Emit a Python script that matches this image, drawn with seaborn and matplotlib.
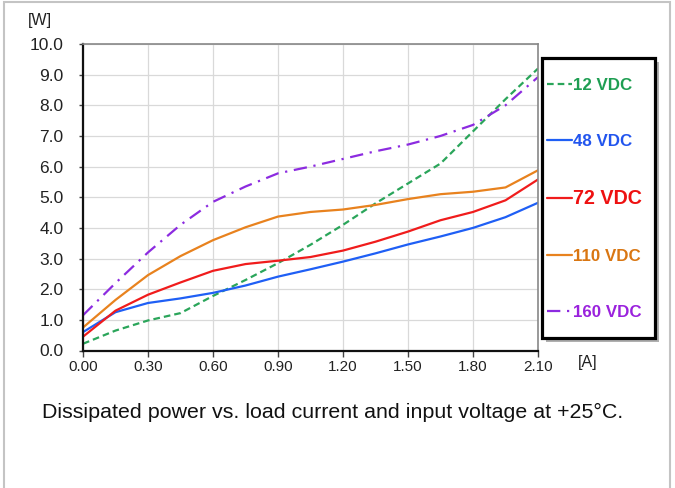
import matplotlib
matplotlib.use("Agg")
import matplotlib.pyplot as plt
import seaborn as sns
import pandas as pd
from matplotlib.patches import Rectangle

sns.set_theme(style="white")
plt.rcParams['font.family'] = ['Liberation Sans', 'DejaVu Sans']

current = [0.00, 0.15, 0.30, 0.45, 0.60, 0.75, 0.90, 1.05, 1.20, 1.35, 1.50, 1.65, 1.80, 1.95, 2.10]
p12 = [0.22, 0.65, 0.98, 1.22, 1.78, 2.30, 2.85, 3.45, 4.10, 4.80, 5.45, 6.10, 7.15, 8.20, 9.20]
p48 = [0.60, 1.25, 1.55, 1.70, 1.88, 2.12, 2.41, 2.65, 2.90, 3.17, 3.46, 3.72, 4.00, 4.35, 4.82]
p72 = [0.45, 1.30, 1.82, 2.22, 2.60, 2.82, 2.93, 3.05, 3.26, 3.55, 3.88, 4.25, 4.52, 4.90, 5.58]
p110 = [0.75, 1.65, 2.46, 3.08, 3.60, 4.02, 4.37, 4.52, 4.60, 4.75, 4.94, 5.10, 5.18, 5.32, 5.88]
p160 = [1.15, 2.20, 3.20, 4.10, 4.85, 5.35, 5.78, 6.00, 6.25, 6.50, 6.72, 7.00, 7.36, 8.00, 8.92]
labels = ["12 VDC", "48 VDC", "72 VDC", "110 VDC", "160 VDC"]
xticks = [0.00, 0.30, 0.60, 0.90, 1.20, 1.50, 1.80, 2.10]
yticks = [0.0, 1.0, 2.0, 3.0, 4.0, 5.0, 6.0, 7.0, 8.0, 9.0, 10.0]

series = [p12, p48, p72, p110, p160]
line_colors = ["#2aa55a", "#1f5ff5", "#f01c1c", "#e8821e", "#8c2be0"]
text_colors = ["#1e9e52", "#2255ee", "#ee1111", "#d97612", "#9a22dd"]
dashes = [(3.0, 1.8), None, None, None, (6, 3, 1, 3)]

W, H = 675, 488
fig = plt.figure(figsize=(6.75, 4.88), dpi=100)
ax = fig.add_axes([83/W, 1-350.5/H, 455/W, 306.5/H])

for vals, lab, col, d in zip(series, labels, line_colors, dashes):
    df = pd.DataFrame({"I": current, "P": vals})
    sns.lineplot(data=df, x="I", y="P", ax=ax, color=col, linewidth=1.6, label=lab)
    if d is not None:
        ax.lines[-1].set_dashes(d)

handles, labs = ax.get_legend_handles_labels()
ax.get_legend().remove()

ax.set_xlim(0, 2.10)
ax.set_ylim(0, 10)
ax.set_xticks(xticks)
ax.set_xticklabels([f"{v:.2f}" for v in xticks], fontsize=11, color="#222222")
ax.set_yticks(yticks)
ax.set_yticklabels([f"{v:.1f}" for v in yticks], fontsize=12.5, color="#222222")
ax.set_xlabel("")
ax.set_ylabel("")
ax.grid(True, color="#d9d9d9", linewidth=0.9)
ax.tick_params(axis='x', direction='out', length=4, width=1, color="#444444", pad=3, bottom=True)
ax.tick_params(axis='y', direction='out', length=3, width=1, color="#444444", pad=11, left=True)
for s in ["left", "bottom"]:
    ax.spines[s].set_color("#111111")
    ax.spines[s].set_linewidth(1.6)
for s in ["top", "right"]:
    ax.spines[s].set_color("#888888")
    ax.spines[s].set_linewidth(1.2)

# legend frame (drawn separately) with shadow
bx, by, bw, bh = 542, 58, 113, 280
fig.patches.append(Rectangle(((bx+4)/W, 1-(by+bh+4)/H), bw/W, bh/H, transform=fig.transFigure,
                             facecolor="#b0b0b0", edgecolor="none", zorder=5))
fig.patches.append(Rectangle((bx/W, 1-(by+bh)/H), bw/W, bh/H, transform=fig.transFigure,
                             facecolor="white", edgecolor="black", linewidth=2.3, zorder=6))

leg = fig.legend(handles, labs, loc="upper left", bbox_to_anchor=(547/W, 1-78/H),
                 bbox_transform=fig.transFigure,
                 frameon=False, handlelength=1.5, handletextpad=0.05, borderpad=0, borderaxespad=0,
                 labelspacing=2.4, prop={'weight': 'bold', 'size': 12.2})
leg.set_zorder(10)
for t, c in zip(leg.get_texts(), text_colors):
    t.set_color(c)
leg.get_texts()[2].set_fontsize(14.2)

fig.text(28/W, 1-21/H, "[W]", fontsize=11.5, color="#222222", va="center", ha="left")
fig.text(578/W, 1-363/H, "[A]", fontsize=11.5, color="#222222", va="center", ha="left")
fig.text(42/W, 1-412/H, "Dissipated power vs. load current and input voltage at +25°C.",
         fontsize=15.4, color="#111111", va="center", ha="left")

fig.patches.append(Rectangle((4/W, -0.01), 666/W, 1.005, transform=fig.transFigure,
                             fill=False, edgecolor="#c4c4c4", linewidth=1.5))

fig.savefig("out.png", dpi=100)
